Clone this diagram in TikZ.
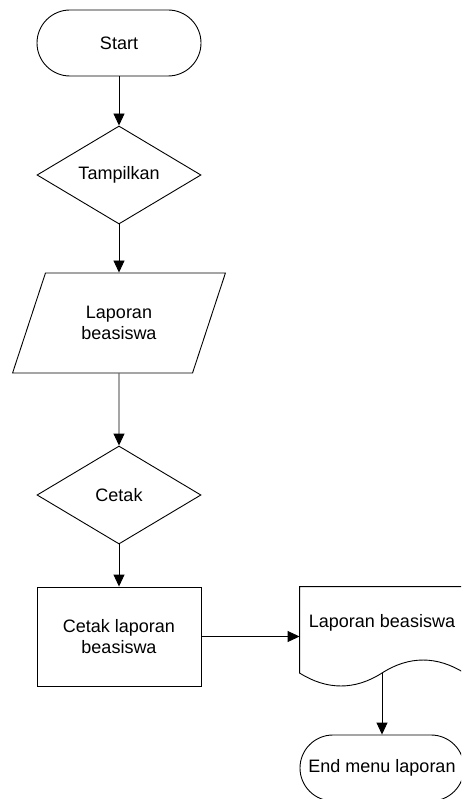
\documentclass[tikz,border=0pt]{standalone}
\usepackage{fontspec}
\setmainfont{Liberation Sans}
\usetikzlibrary{shapes.geometric,arrows.meta}

\begin{document}
\begin{tikzpicture}[x=1pt, y=-1pt, line width=0.9pt,
    every node/.style={font=\fontsize{18}{21}\selectfont, align=center, inner sep=0pt},
    terminal/.style={draw, rectangle, rounded corners=33pt, minimum width=164pt, minimum height=66pt},
    decision/.style={draw, diamond, minimum width=164pt, minimum height=98pt},
    inout/.style={draw, trapezium, trapezium stretches=true, trapezium left angle=63.43,
      trapezium right angle=116.57, minimum width=213pt, minimum height=100pt},
    process/.style={draw, rectangle, minimum width=164pt, minimum height=99pt},
    arr/.style={-{Triangle[length=12pt, width=11pt]}}]

  \useasboundingbox (0,0) rectangle (461,799);
  \clip (0,0) rectangle (461,799);

  \node[terminal] (start) at (119, 43) {Start};
  \node[decision] (tampil) at (119, 175) {Tampilkan};
  \node[inout] (lapin) at (119, 323) {Laporan\\beasiswa};
  \node[decision] (cetak) at (119, 495) {Cetak};
  \node[process] (cetaklap) at (119, 636.5) {Cetak laporan\\beasiswa};

  %% document shape, text in its upper part
  \node[minimum width=164pt, minimum height=72pt] (lapdoc) at (382, 623) {Laporan beasiswa};
  \coordinate (docb) at (382, 673);
  \draw (lapdoc.west |- 0,673) -- (lapdoc.north west) -- (lapdoc.north east) -- (lapdoc.east |- 0,673)
    .. controls (437,655.7) and (409,655.7) .. (docb)
    .. controls (355,690.3) and (327,690.3) .. cycle;

  \node[terminal] (endlap) at (382, 768) {End menu laporan};

  \draw[arr] (start) -- (tampil);
  \draw[arr] (tampil) -- (lapin);
  \draw[arr] (lapin) -- (cetak);
  \draw[arr] (cetak) -- (cetaklap);
  \draw[arr] (cetaklap.east) -- (cetaklap.east -| lapdoc.west); % to document
  \draw[arr] (docb) -- (endlap);

\end{tikzpicture}
\end{document}
